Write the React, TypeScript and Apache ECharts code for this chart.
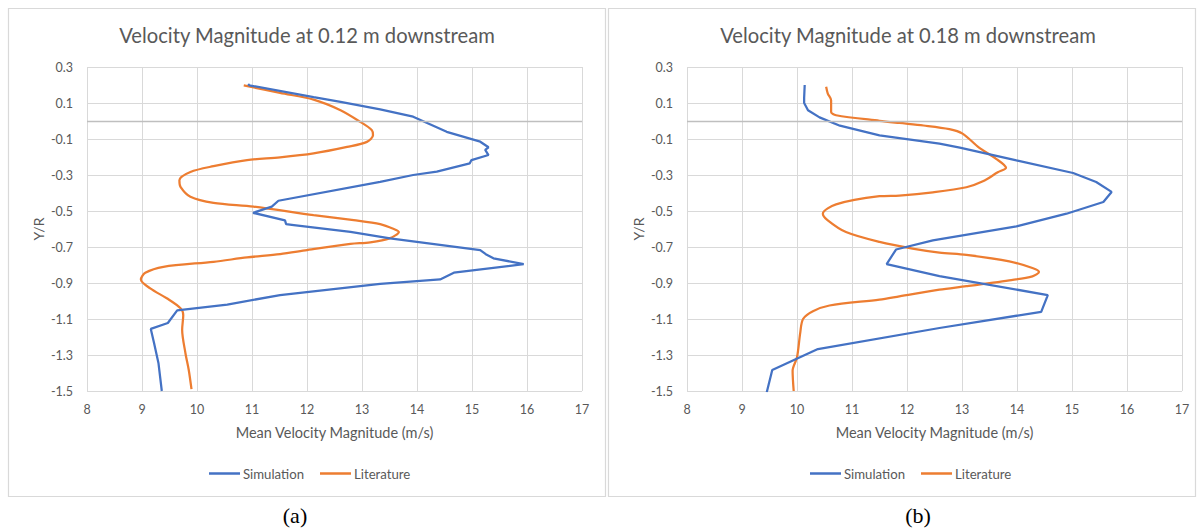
import React, { useEffect, useRef } from "react";
import * as echarts from "echarts";

// [mean velocity magnitude (m/s), Y/R]
const simulationA: [number, number][] = [
  [10.93, 0.205], [10.95, 0.198], [12.12, 0.133], [12.61, 0.106], [13.33, 0.065], [13.93, 0.024],
  [14.54, -0.06], [15.15, -0.115], [15.3, -0.146], [15.24, -0.161], [15.3, -0.189],
  [14.99, -0.217], [14.96, -0.235], [14.36, -0.281], [13.93, -0.3], [13.33, -0.338],
  [11.48, -0.443], [11.36, -0.476], [11.02, -0.51], [11.6, -0.552], [11.62, -0.573],
  [11.76, -0.578], [12.79, -0.616], [13.51, -0.652], [15.15, -0.717], [15.25, -0.74],
  [15.39, -0.763], [15.94, -0.795], [14.67, -0.843], [14.42, -0.88], [13.33, -0.905],
  [11.51, -0.967], [10.55, -1.02], [9.64, -1.052], [9.47, -1.122], [9.16, -1.155],
  [9.22, -1.235], [9.3, -1.346], [9.36, -1.5],
];

const literatureA: [number, number][] = [
  [10.85, 0.198], [11.51, 0.156], [12.12, 0.119], [12.61, 0.06], [12.97, -0.005],
  [13.18, -0.051], [13.2, -0.079], [13.09, -0.116], [12.73, -0.144], [12.12, -0.18],
  [11.51, -0.202], [10.91, -0.217], [10.3, -0.251], [9.88, -0.283], [9.68, -0.329],
  [9.7, -0.366], [9.88, -0.421], [10.3, -0.455], [11.03, -0.476], [12.12, -0.523],
  [12.85, -0.551], [13.33, -0.573], [13.58, -0.6], [13.67, -0.616], [13.5, -0.652],
  [13.15, -0.674], [12.79, -0.683], [12.0, -0.717], [11.51, -0.739], [10.91, -0.758],
  [10.3, -0.782], [9.39, -0.81], [9.06, -0.843], [8.98, -0.88], [9.15, -0.93],
  [9.45, -0.985], [9.7, -1.04], [9.75, -1.078], [9.73, -1.16], [9.79, -1.29],
  [9.85, -1.383], [9.9, -1.49],
];

const simulationB: [number, number][] = [
  [10.14, 0.2], [10.13, 0.13], [10.13, 0.1], [10.2, 0.06], [10.41, 0.02], [10.78, -0.026],
  [11.5, -0.08], [12.59, -0.126], [12.96, -0.148], [13.99, -0.219], [15.02, -0.289],
  [15.44, -0.339], [15.72, -0.394], [15.57, -0.45], [14.9, -0.515], [13.99, -0.585],
  [12.47, -0.663], [11.8, -0.714], [11.63, -0.795], [12.59, -0.862], [14.56, -0.967],
  [14.44, -1.06], [12.59, -1.15], [10.38, -1.267], [9.55, -1.383], [9.45, -1.507],
];

const literatureB: [number, number][] = [
  [10.53, 0.19], [10.56, 0.152], [10.62, 0.115], [10.62, 0.05], [10.71, 0.032],
  [11.5, 0.001], [11.86, -0.011], [12.3, -0.025], [12.77, -0.045], [13.01, -0.07],
  [13.31, -0.148], [13.62, -0.21], [13.8, -0.26], [13.65, -0.285], [13.38, -0.335],
  [13.08, -0.368], [12.47, -0.396], [11.86, -0.414], [11.5, -0.418], [10.71, -0.463],
  [10.47, -0.515], [10.56, -0.552], [10.89, -0.617], [11.5, -0.672], [12.1, -0.709],
  [12.59, -0.731], [13.08, -0.744], [13.86, -0.78], [14.28, -0.817], [14.4, -0.839],
  [14.28, -0.863], [13.86, -0.885], [13.08, -0.918], [12.59, -0.937], [11.86, -0.974],
  [11.5, -0.992], [10.59, -1.025], [10.29, -1.057], [10.11, -1.1], [10.06, -1.174],
  [10.0, -1.313], [9.92, -1.387], [9.94, -1.5],
];

const panelTitles = [
  "Velocity Magnitude at 0.12 m downstream",
  "Velocity Magnitude at 0.18 m downstream",
];
const panelCaptions = ["(a)", "(b)"];
const seriesNames = ["Simulation", "Literature"];
const xAxisName = "Mean Velocity Magnitude (m/s)";
const yAxisName = "Y/R";

const BLUE = "#4472C4";
const ORANGE = "#ED7D31";
const TEXT = "#595959";
const GRID = "#d9d9d9";
const FONT = "Lato";

export default function App() {
  const ref = useRef<HTMLDivElement>(null);

  useEffect(() => {
    if (!ref.current) return;
    const chart = echarts.init(ref.current, undefined, { renderer: "svg" });

    const gridLefts = [87, 687];
    const panels = [
      { x: 8.5, w: 597 },
      { x: 608.5, w: 587 },
    ];
    const titleCenters = [307, 908];
    const captionCenters = [295, 918];
    const legendLefts = [209, 810];

    const xAxes = [0, 1].map((i) => ({
      type: "value",
      gridIndex: i,
      min: 8,
      max: 17,
      interval: 1,
      axisLine: { show: false },
      axisTick: { show: false },
      splitLine: { show: true, lineStyle: { color: GRID, width: 1 } },
      axisLabel: { color: TEXT, fontSize: 12.5, margin: 12, fontFamily: FONT },
      name: xAxisName,
      nameLocation: "middle",
      nameGap: 34,
      nameTextStyle: { color: TEXT, fontSize: 14.5, fontFamily: FONT },
    }));

    const yAxes = [0, 1].map((i) => ({
      type: "value",
      gridIndex: i,
      min: -1.5,
      max: 0.3,
      interval: 0.2,
      axisLine: { show: false },
      axisTick: { show: false },
      splitLine: { show: true, lineStyle: { color: GRID, width: 1 } },
      axisLabel: {
        color: TEXT,
        fontSize: 12.5,
        margin: 14,
        fontFamily: FONT,
        formatter: (v: number) => v.toFixed(1),
      },
      name: yAxisName,
      nameLocation: "middle",
      nameGap: 42,
      nameTextStyle: { color: TEXT, fontSize: 14, fontFamily: FONT },
    }));

    const zeroLine = {
      silent: true,
      symbol: ["none", "none"],
      label: { show: false },
      lineStyle: { color: "#bfbfbf", width: 1.3, type: "solid" },
      data: [{ yAxis: 0 }],
    };

    const makeLine = (name: string, data: [number, number][], idx: number, color: string, smooth: number | boolean, withZero: boolean) => ({
      type: "line",
      name,
      xAxisIndex: idx,
      yAxisIndex: idx,
      data,
      showSymbol: false,
      symbol: "none",
      smooth,
      lineStyle: { color, width: 2.25 },
      itemStyle: { color },
      z: name === seriesNames[0] ? 3 : 2,
      ...(withZero ? { markLine: zeroLine } : {}),
    });

    const graphics: any[] = [];
    panels.forEach((p, i) => {
      graphics.push({
        type: "rect",
        shape: { x: p.x, y: 8.5, width: p.w, height: 488 },
        style: { fill: "none", stroke: GRID, lineWidth: 1.2 },
        silent: true,
        z: -1,
      });
      graphics.push({
        type: "text",
        x: titleCenters[i],
        y: 35,
        style: {
          text: panelTitles[i],
          fill: TEXT,
          fontSize: 20.2,
          fontFamily: FONT,
          textAlign: "center",
          textVerticalAlign: "middle",
        },
      });
      graphics.push({
        type: "text",
        x: captionCenters[i],
        y: 515,
        style: {
          text: panelCaptions[i],
          fill: "#000",
          fontSize: 22,
          fontFamily: "Liberation Serif",
          textAlign: "center",
          textVerticalAlign: "middle",
        },
      });
    });

    chart.setOption({
      animation: false,
      backgroundColor: "#fff",
      textStyle: { fontFamily: FONT },
      grid: gridLefts.map((l) => ({ left: l, top: 67, width: 495, height: 324 })),
      xAxis: xAxes,
      yAxis: yAxes,
      legend: legendLefts.map((l) => ({
        data: seriesNames,
        left: l,
        top: 467,
        padding: 0,
        icon: "rect",
        itemWidth: 31,
        itemHeight: 2.5,
        itemGap: 16,
        textStyle: { color: TEXT, fontSize: 13.2, fontFamily: FONT, padding: [0, 0, 0, -2] },
      })),
      series: [
        makeLine(seriesNames[0], simulationA, 0, BLUE, false, true),
        makeLine(seriesNames[1], literatureA, 0, ORANGE, 0.3, false),
        makeLine(seriesNames[0], simulationB, 1, BLUE, false, true),
        makeLine(seriesNames[1], literatureB, 1, ORANGE, 0.3, false),
      ],
      graphic: graphics,
    });

    return () => chart.dispose();
  }, []);

  return (
    <div
      ref={ref}
      style={{ position: "absolute", left: 0, top: 0, width: 1200, height: 529 }}
    />
  );
}
